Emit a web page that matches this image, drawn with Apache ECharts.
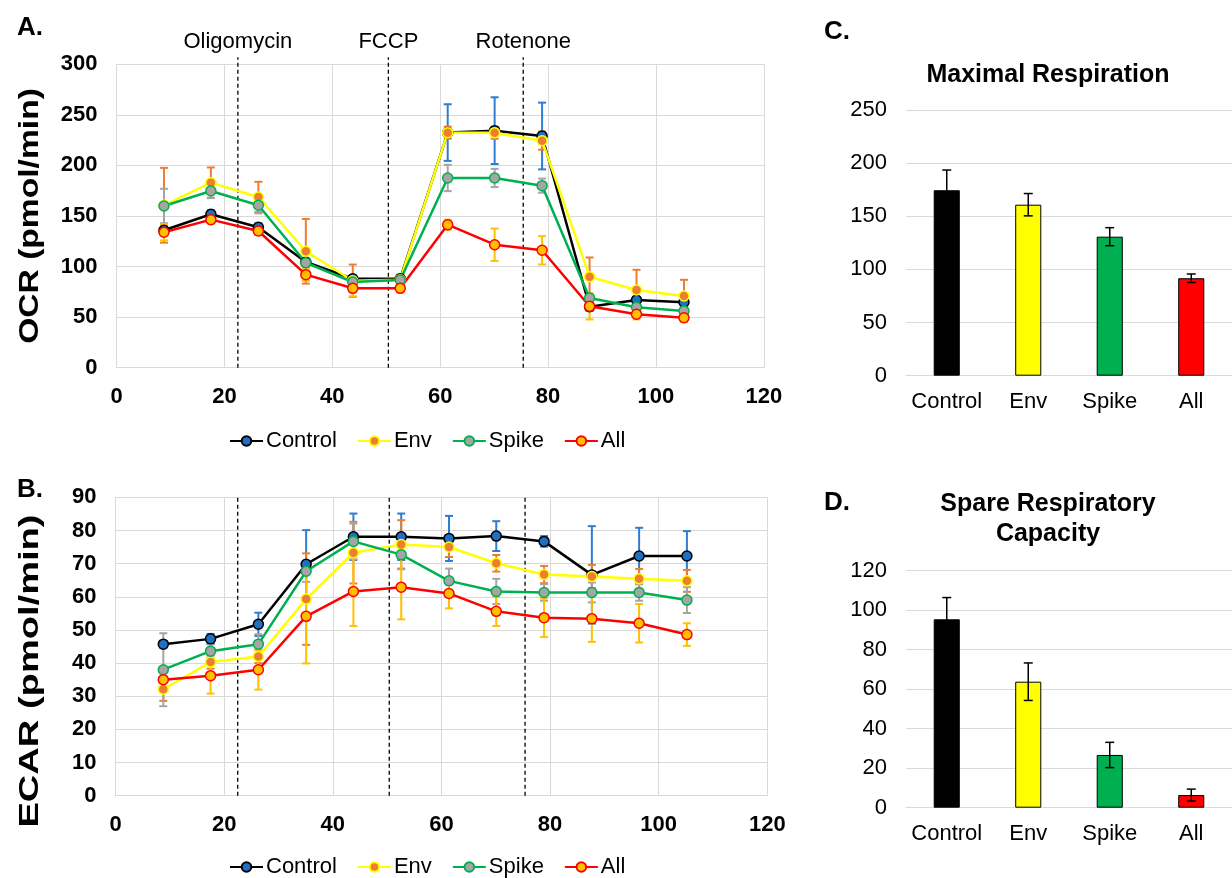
<!DOCTYPE html>
<html><head><meta charset="utf-8">
<script src="https://cdn.jsdelivr.net/npm/echarts@6/dist/echarts.min.js"></script>
<style>html,body{margin:0;padding:0;background:#fff}#c{width:1232px;height:878px}</style>
</head><body><div id="c"></div>
<script>
// ---- data ----
const times = [8.8,17.5,26.3,35.1,43.8,52.6,61.4,70.1,78.9,87.7,96.4,105.2];
const injections = [22.5, 50.4, 75.4];
const injectionLabels = ['Oligomycin','FCCP','Rotenone'];
const seriesNames = ['Control','Env','Spike','All'];

const ocrControl = [135.9,151.7,138.8,104.5,88,88,232.5,234.4,229.1,60.3,66.9,64.7];
const ocrEnv     = [160.6,183,168.8,115.1,86,87,232.4,232.4,224.5,90,76.8,70.9];
const ocrSpike   = [159.9,174.7,160.6,103.8,84.7,86.7,187.6,187.6,180,68.9,59.7,56];
const ocrAll     = [133.9,146.4,135.2,92,78.5,78.5,141.4,121.6,116.1,60.7,52.8,49.4];
const ocrControlErr = [4,4,4,3,3,3,28,33,33,4,3,3];
const ocrEnvErr     = [37,15,15,32,16,5,6,6,9,19,20,16];
const ocrSpikeErr   = [17,7,8,4,3,3,13,9,7,3,3,3];
const ocrAllErr     = [8,4,4,6,8,3,5,16,14,13,5,4];

const ecarControl = [45.7,47.3,51.7,69.8,78.1,78.1,77.6,78.3,76.7,66.6,72.3,72.3];
const ecarEnv     = [32.1,40.3,42,59.3,73.3,75.8,75,70.1,66.7,66.1,65.4,64.8];
const ecarSpike   = [38,43.6,45.7,67.7,76.7,72.7,64.8,61.6,61.3,61.3,61.3,59];
const ecarAll     = [35,36.2,38,54.1,61.6,62.9,61,55.6,53.7,53.4,52,48.6];
const ecarControlErr = [1,1.5,3.5,10.3,7,7,6.8,4.5,1.6,14.7,8.5,7.5];
const ecarEnvErr     = [3.5,2,2,13.8,9.3,7.3,3,2.5,2.6,3.5,3,3.3];
const ecarSpikeErr   = [11,2,3,3.2,5.4,4.4,3.7,3.8,2.5,3,2.5,3.9];
const ecarAllErr     = [2,5.4,6,14.2,10.4,9.7,4.5,4.4,5.8,7,5.8,3.4];

const groups = ['Control','Env','Spike','All'];
const maxResp = [174.5,160.9,130.8,91.7];
const maxRespErr = [19,10.5,8.5,4];
const spareCap = [95.4,63.8,26.7,6.4];
const spareCapErr = [11,9.5,6.4,3];

// ---- styles ----
const FONT = '"Liberation Sans", Arial, sans-serif';
const lineColors = ['#000000','#FFFF00','#00B050','#FF0000'];
const markerFill = ['#1F6FC5','#ED7D31','#A5A5A5','#FFC000'];
const errColors  = ['#2E7DD1','#ED7D31','#A5A5A5','#FFC000'];
const barColors  = ['#000000','#FFFF00','#00B050','#FF0000'];
const GRID = '#D9D9D9';

function errRender(color, cap, lw) {
  return function (params, api) {
    const x = api.value(0), v = api.value(1), e = api.value(2);
    const hi = api.coord([x, v + e]);
    const lo = api.coord([x, v - e]);
    const h = cap / 2;
    const st = {stroke: color, lineWidth: lw};
    return {type: 'group', children: [
      {type: 'line', shape: {x1: hi[0], y1: hi[1], x2: lo[0], y2: lo[1]}, style: st},
      {type: 'line', shape: {x1: hi[0] - h, y1: hi[1], x2: hi[0] + h, y2: hi[1]}, style: st},
      {type: 'line', shape: {x1: lo[0] - h, y1: lo[1], x2: lo[0] + h, y2: lo[1]}, style: st}
    ]};
  };
}

function injRender(yMin, yMax, overshoot, withLabel) {
  return function (params, api) {
    const x = api.value(0);
    const p0 = api.coord([x, yMin]);
    const p1 = api.coord([x, yMax]);
    const ch = [{type: 'line', shape: {x1: p0[0], y1: p0[1], x2: p1[0], y2: p1[1] - overshoot},
      style: {stroke: '#000', lineWidth: 1.3, lineDash: [4, 3]}}];
    if (withLabel) {
      ch.push({type: 'text', x: p1[0], y: p1[1] - 22,
        style: {text: injectionLabels[params.dataIndex], fill: '#000', font: '22px ' + FONT,
          align: 'center', verticalAlign: 'middle'}});
    }
    return {type: 'group', children: ch};
  };
}

const pairs = (xs, ys) => xs.map((x, i) => [x, ys[i]]);
const triples = (xs, ys, es) => xs.map((x, i) => [x, ys[i], es[i]]);

const ocrSets = [[ocrControl, ocrControlErr],[ocrEnv, ocrEnvErr],[ocrSpike, ocrSpikeErr],[ocrAll, ocrAllErr]];
const ecarSets = [[ecarControl, ecarControlErr],[ecarEnv, ecarEnvErr],[ecarSpike, ecarSpikeErr],[ecarAll, ecarAllErr]];

const series = [];
series.push({type: 'custom', xAxisIndex: 0, yAxisIndex: 0, clip: false, z: 1, silent: true,
  renderItem: injRender(0, 300, 7, true), data: injections.map(v => [v])});
series.push({type: 'custom', xAxisIndex: 1, yAxisIndex: 1, clip: false, z: 1, silent: true,
  renderItem: injRender(0, 90, 0, false), data: injections.map(v => [v])});

[[ocrSets, 0], [ecarSets, 1]].forEach(([sets, gi]) => {
  sets.forEach(([vals, errs], k) => {
    series.push({type: 'custom', name: seriesNames[k] + ' err' + gi, xAxisIndex: gi, yAxisIndex: gi,
      z: 2, silent: true, renderItem: errRender(errColors[k], 8, 2), data: triples(times, vals, errs)});
  });
  sets.forEach(([vals], k) => {
    series.push({type: 'line', name: seriesNames[k], xAxisIndex: gi, yAxisIndex: gi, z: 3,
      symbol: 'circle', symbolSize: 10,
      lineStyle: {color: lineColors[k], width: 2.5},
      itemStyle: {color: markerFill[k], borderColor: lineColors[k], borderWidth: 1.5},
      data: pairs(times, vals)});
  });
});

[[maxResp, maxRespErr, 2], [spareCap, spareCapErr, 3]].forEach(([vals, errs, gi]) => {
  series.push({type: 'bar', xAxisIndex: gi, yAxisIndex: gi, barWidth: '32%',
    data: vals.map((v, i) => ({value: v, itemStyle: {color: barColors[i], borderColor: '#000', borderWidth: 1}}))});
  series.push({type: 'custom', xAxisIndex: gi, yAxisIndex: gi, z: 5, silent: true,
    renderItem: errRender('#000', 9, 1.5), data: vals.map((v, i) => [i, v, errs[i]])});
});

const boldLabel = {color: '#000', fontSize: 22, fontWeight: 'bold', fontFamily: FONT};
const plainLabel = {color: '#000', fontSize: 22, fontFamily: FONT};

function valueX(gi) {
  return {type: 'value', gridIndex: gi, min: 0, max: 120, interval: 20,
    axisLine: {show: true, lineStyle: {color: GRID}}, axisTick: {show: false},
    splitLine: {show: true, lineStyle: {color: GRID, width: 1}},
    axisLabel: Object.assign({margin: 18}, boldLabel)};
}
function valueY(gi, max, interval, bold) {
  return {type: 'value', gridIndex: gi, min: 0, max: max, interval: interval,
    axisLine: {show: gi < 2, lineStyle: {color: GRID}}, axisTick: {show: false},
    splitLine: {show: true, lineStyle: {color: GRID, width: 1}},
    axisLabel: Object.assign({margin: 19}, bold ? boldLabel : plainLabel)};
}
function catX(gi) {
  return {type: 'category', gridIndex: gi, data: groups,
    axisLine: {show: true, lineStyle: {color: GRID}}, axisTick: {show: false},
    axisLabel: Object.assign({margin: 15, interval: 0}, plainLabel)};
}

const legendBase = {data: seriesNames, orient: 'horizontal', itemWidth: 33, itemHeight: 12, itemGap: 20,
  selectedMode: false, textStyle: {color: '#000', fontSize: 22, fontFamily: FONT, padding: [0, 0, 0, -2]}};

const titleStyle = {fontSize: 26, fontWeight: 'bold', color: '#000', fontFamily: FONT};

const option = {
  animation: false,
  backgroundColor: '#fff',
  title: [
    {text: 'A.', left: 12, top: 10, textStyle: titleStyle},
    {text: 'B.', left: 12, top: 472, textStyle: titleStyle},
    {text: 'C.', left: 819, top: 14, textStyle: titleStyle},
    {text: 'D.', left: 819, top: 485, textStyle: titleStyle},
    {text: 'Maximal Respiration', left: 1043, top: 58, textAlign: 'center',
      textStyle: {fontSize: 25, fontWeight: 'bold', color: '#000', fontFamily: FONT}},
    {text: 'Spare Respiratory\nCapacity', left: 1043, top: 484, textAlign: 'center',
      textStyle: {fontSize: 25, fontWeight: 'bold', color: '#000', fontFamily: FONT, lineHeight: 30}}
  ],
  graphic: [
    {type: 'text', x: 30, y: 216, rotation: Math.PI / 2, scaleX: 1.2,
      style: {text: 'OCR (pmol/min)', font: 'bold 28px ' + FONT, fill: '#000', align: 'center', verticalAlign: 'middle'}},
    {type: 'text', x: 30, y: 671, rotation: Math.PI / 2, scaleX: 1.36,
      style: {text: 'ECAR (pmol/min)', font: 'bold 28px ' + FONT, fill: '#000', align: 'center', verticalAlign: 'middle'}}
  ],
  legend: [
    Object.assign({left: 224, top: 425}, legendBase),
    Object.assign({left: 224, top: 851}, legendBase)
  ],
  grid: [
    {left: 116.5, top: 64.3, width: 647.3, height: 303.4},
    {left: 115.5, top: 497.3, width: 651.8, height: 298.4},
    {left: 906, top: 110, width: 326, height: 265.7},
    {left: 906, top: 570.7, width: 326, height: 237}
  ],
  xAxis: [valueX(0), valueX(1), catX(2), catX(3)],
  yAxis: [valueY(0, 300, 50, true), valueY(1, 90, 10, true), valueY(2, 250, 50, false), valueY(3, 120, 20, false)],
  series: series
};

const chart = echarts.init(document.getElementById('c'), null, {renderer: 'canvas'});
chart.setOption(option);
</script></body></html>
